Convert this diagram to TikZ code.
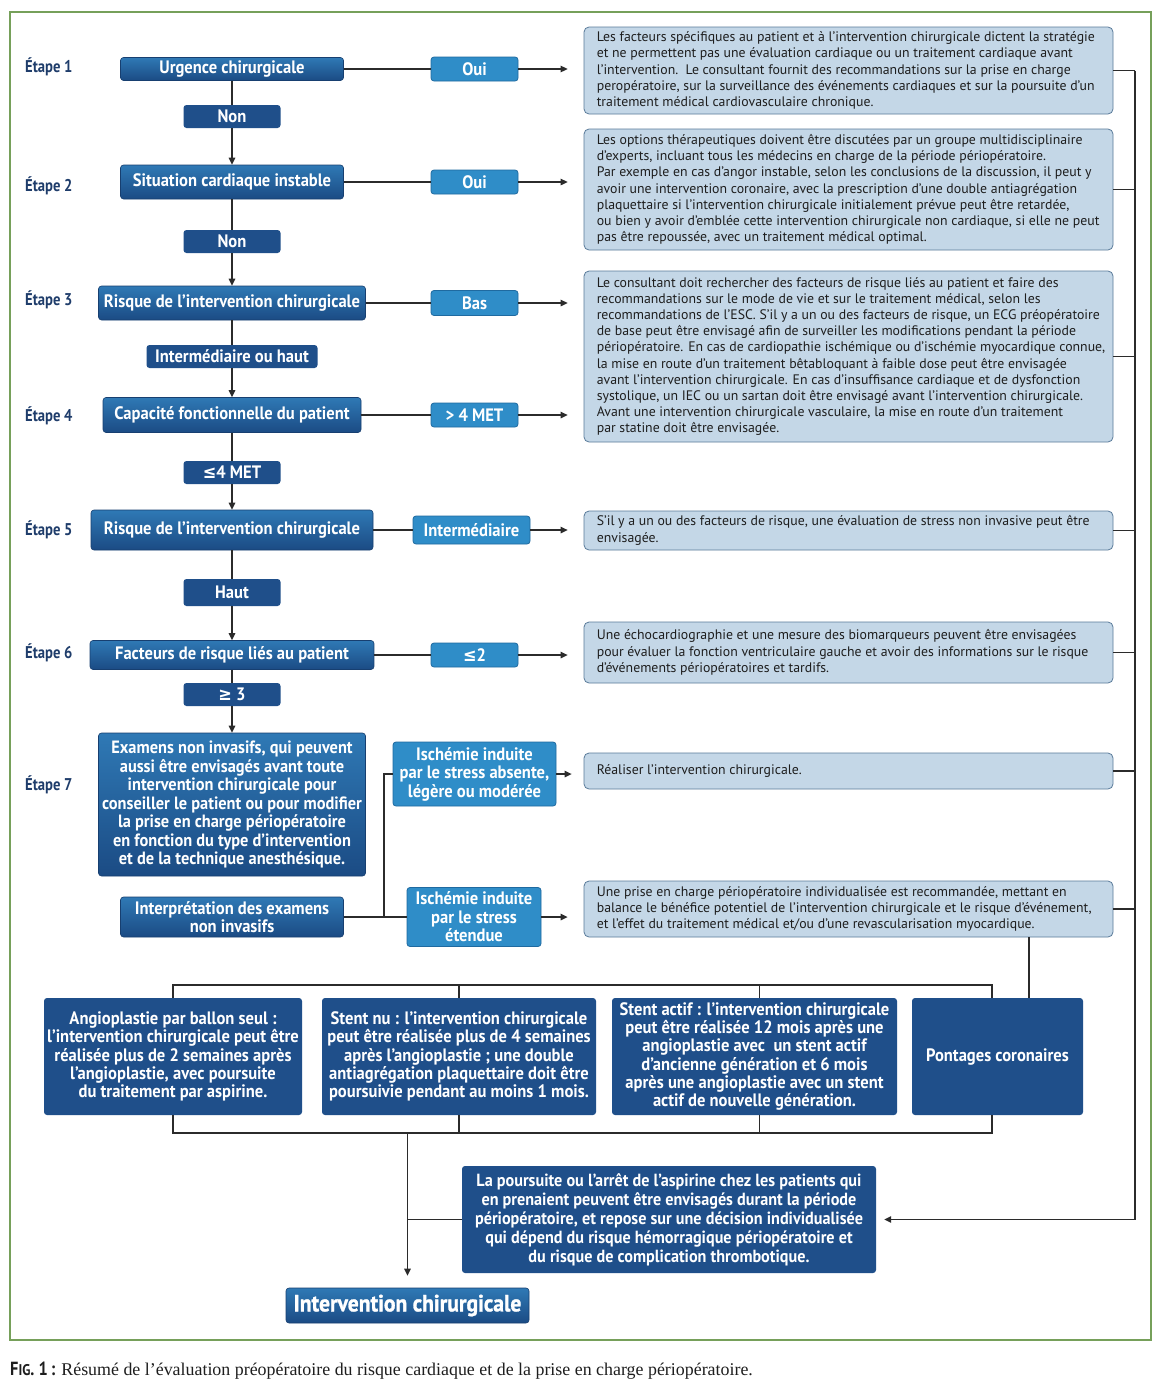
\documentclass[tikz,border=0pt]{standalone}
\usepackage{fontspec}
\usetikzlibrary{arrows.meta}
\setmainfont{Liberation Serif}
\newfontfamily\bfont[FakeStretch=0.92]{PT Sans}
\newfontfamily\efont[FakeStretch=0.86]{PT Sans}
\newfontfamily\hfont[FakeStretch=0.92,FakeBold=1.2]{PT Sans}
\newfontfamily\tfont{PT Sans}
\newfontfamily\symfont[FakeStretch=0.9]{DejaVu Sans}
\definecolor{gTop}{HTML}{2F79B5}
\definecolor{gBot}{HTML}{1B4B84}
\definecolor{dkB}{HTML}{173F70}
\definecolor{flatB}{HTML}{1F4F8A}
\definecolor{mB}{HTML}{2F8DC8}
\definecolor{mB2}{HTML}{1F6AA0}
\definecolor{rF}{HTML}{C4D7E7}
\definecolor{rBd}{HTML}{5A7B9A}
\definecolor{lnC}{HTML}{2B2B2B}
\definecolor{etC}{HTML}{1F3D6B}
\definecolor{frC}{HTML}{76A05A}
\definecolor{txC}{HTML}{1E1E1E}
\tikzset{
  lab/.style={text=white, font=\bfont\bfseries\fontsize{18}{18.5}\selectfont, align=center, inner sep=0pt},
  dbox/.style={lab, rounded corners=3pt, draw=dkB, line width=0.6pt, top color=gTop, bottom color=gBot},
  fbox/.style={lab, rounded corners=3pt, fill=flatB},
  mbox/.style={lab, rounded corners=3pt, draw=mB2, line width=0.8pt, fill=mB},
  bbox/.style={fbox, font=\bfont\bfseries\fontsize{18}{18.3}\selectfont},
  rbox/.style={rounded corners=5pt, draw=rBd, line width=0.8pt, fill=rF},
  rtxt/.style={anchor=west, align=left, inner sep=0pt, text=txC, font=\tfont\fontsize{13.8}{16.2}\selectfont},
  etape/.style={anchor=west, inner sep=0pt, text=etC, font=\efont\bfseries\fontsize{17}{18}\selectfont},
  ln/.style={draw=lnC, line width=1.3pt},
  arr/.style={ln, -{Triangle[length=7pt,width=6.5pt]}},
  frame/.style={draw=frC, line width=2pt},
}
\begin{document}
\begin{tikzpicture}[x=1pt,y=-1pt]
\useasboundingbox (0,0) rectangle (1156,1392);
\fill[white] (0,0) rectangle (1156,1392);
\draw[frame] (10,12) rectangle (1151,1340);

% Etape labels
\node[etape] (e1) at (25,67) {Étape 1};
\node[etape] (e2) at (25,186) {Étape 2};
\node[etape] (e3) at (25,300) {Étape 3};
\node[etape] (e4) at (25,416) {Étape 4};
\node[etape] (e5) at (25,530) {Étape 5};
\node[etape] (e6) at (25,653) {Étape 6};
\node[etape] (e7) at (25,785) {Étape 7};

% left column
\node[dbox, minimum width=223pt, minimum height=23pt] (u1) at (232,69) {Urgence chirurgicale};
\node[fbox, minimum width=97pt, minimum height=23pt] (n1) at (232,116.5) {Non};
\node[dbox, minimum width=223pt, minimum height=34pt] (u2) at (232,182) {Situation cardiaque instable};
\node[fbox, minimum width=97pt, minimum height=23pt] (n2) at (232,241.5) {Non};
\node[dbox, minimum width=267pt, minimum height=34pt] (u3) at (232,303) {Risque de l’intervention chirurgicale};
\node[fbox, minimum width=171pt, minimum height=23pt] (n3) at (232,356.5) {Intermédiaire ou haut};
\node[dbox, minimum width=258pt, minimum height=35pt] (u4) at (232,415) {Capacité fonctionnelle du patient};
\node[fbox, minimum width=97pt, minimum height=23pt] (n4) at (232,472.5) {{\symfont ≤}4 MET};
\node[dbox, minimum width=282pt, minimum height=40pt] (u5) at (232,530) {Risque de l’intervention chirurgicale};
\node[fbox, minimum width=97pt, minimum height=27pt] (n5) at (232,592.5) {Haut};
\node[dbox, minimum width=284pt, minimum height=29pt] (u6) at (232,655) {Facteurs de risque liés au patient};
\node[fbox, minimum width=97pt, minimum height=23pt] (n6) at (232,694.5) {{\symfont ≥} 3};
\node[dbox, minimum width=267pt, minimum height=143pt, font=\bfont\bfseries\fontsize{17.8}{18.5}\selectfont] (u7) at (232,804.5) {Examens non invasifs, qui peuvent\\aussi être envisagés avant toute\\intervention chirurgicale pour\\conseiller le patient ou pour modifier\\la prise en charge périopératoire\\en fonction du type d’intervention\\et de la technique anesthésique.};
\node[dbox, minimum width=223pt, minimum height=40pt] (u8) at (232,917) {Interprétation des examens\\non invasifs};

% middle column
\node[mbox, minimum width=87pt, minimum height=24pt] (m1) at (474.5,69) {Oui};
\node[mbox, minimum width=87pt, minimum height=24pt] (m2) at (474.5,182) {Oui};
\node[mbox, minimum width=87pt, minimum height=25pt] (m3) at (474.5,303) {Bas};
\node[mbox, minimum width=87pt, minimum height=24pt] (m4) at (474.5,415) {> 4 MET};
\node[mbox, minimum width=117pt, minimum height=28pt] (m5) at (471.5,530) {Intermédiaire};
\node[mbox, minimum width=87pt, minimum height=24pt] (m6) at (474.5,655) {{\symfont ≤}2};
\node[mbox, minimum width=163pt, minimum height=64pt] (m7) at (474.5,774) {Ischémie induite\\par le stress absente,\\légère ou modérée};
\node[mbox, minimum width=134pt, minimum height=59pt] (m8) at (474,917) {Ischémie induite\\par le stress\\étendue};

% right column
\node[rbox, minimum width=529pt, minimum height=87pt] (r1) at (848.5,70.5) {};
\node[rbox, minimum width=529pt, minimum height=121pt] (r2) at (848.5,189.5) {};
\node[rbox, minimum width=529pt, minimum height=171pt] (r3) at (848.5,356.5) {};
\node[rbox, minimum width=529pt, minimum height=39pt] (r4) at (848.5,530.5) {};
\node[rbox, minimum width=529pt, minimum height=61pt] (r5) at (848.5,652.5) {};
\node[rbox, minimum width=529pt, minimum height=36pt] (r6) at (848.5,771) {};
\node[rbox, minimum width=529pt, minimum height=56pt] (r7) at (848.5,909) {};

\node[rtxt] (t1) at ([xshift=13pt]r1.west) {Les facteurs spécifiques au patient et à l’intervention chirurgicale dictent la stratégie\\et ne permettent pas une évaluation cardiaque ou un traitement cardiaque avant\\l’intervention.\ \ Le consultant fournit des recommandations sur la prise en charge\\peropératoire, sur la surveillance des événements cardiaques et sur la poursuite d’un\\traitement médical cardiovasculaire chronique.};
\node[rtxt] (t2) at ([xshift=13pt]r2.west) {Les options thérapeutiques doivent être discutées par un groupe multidisciplinaire\\d’experts, incluant tous les médecins en charge de la période périopératoire.\\Par exemple en cas d’angor instable, selon les conclusions de la discussion, il peut y\\avoir une intervention coronaire, avec la prescription d’une double antiagrégation\\plaquettaire si l’intervention chirurgicale initialement prévue peut être retardée,\\ou bien y avoir d’emblée cette intervention chirurgicale non cardiaque, si elle ne peut\\pas être repoussée, avec un traitement médical optimal.};
\node[rtxt] (t3) at ([xshift=13pt]r3.west) {Le consultant doit rechercher des facteurs de risque liés au patient et faire des\\recommandations sur le mode de vie et sur le traitement médical, selon les\\recommandations de l’ESC. S’il y a un ou des facteurs de risque, un ECG préopératoire\\de base peut être envisagé afin de surveiller les modifications pendant la période\\périopératoire. En cas de cardiopathie ischémique ou d’ischémie myocardique connue,\\la mise en route d’un traitement bêtabloquant à faible dose peut être envisagée\\avant l’intervention chirurgicale. En cas d’insuffisance cardiaque et de dysfonction\\systolique, un IEC ou un sartan doit être envisagé avant l’intervention chirurgicale.\\Avant une intervention chirurgicale vasculaire, la mise en route d’un traitement\\par statine doit être envisagée.};
\node[rtxt] (t4) at ([xshift=13pt]r4.west) {S’il y a un ou des facteurs de risque, une évaluation de stress non invasive peut être\\envisagée.};
\node[rtxt] (t5) at ([xshift=13pt]r5.west) {Une échocardiographie et une mesure des biomarqueurs peuvent être envisagées\\pour évaluer la fonction ventriculaire gauche et avoir des informations sur le risque\\d’événements périopératoires et tardifs.};
\node[rtxt] (t6) at ([xshift=13pt]r6.west) {Réaliser l’intervention chirurgicale.};
\node[rtxt] (t7) at ([xshift=13pt]r7.west) {Une prise en charge périopératoire individualisée est recommandée, mettant en\\balance le bénéfice potentiel de l’intervention chirurgicale et le risque d’événement,\\et l’effet du traitement médical et/ou d’une revascularisation myocardique.};

% bottom boxes
\node[bbox, minimum width=258pt, minimum height=117pt] (bA) at (173,1056.5) {Angioplastie par ballon seul :\\l’intervention chirurgicale peut être\\réalisée plus de 2 semaines après\\l’angioplastie, avec poursuite\\du traitement par aspirine.};
\node[bbox, minimum width=274pt, minimum height=117pt] (bB) at (459,1056.5) {Stent nu : l’intervention chirurgicale\\peut être réalisée plus de 4 semaines\\après l’angioplastie ; une double\\antiagrégation plaquettaire doit être\\poursuivie pendant au moins 1 mois.};
\node[bbox, minimum width=285pt, minimum height=117pt] (bC) at (754.5,1056.5) {Stent actif : l’intervention chirurgicale\\peut être réalisée 12 mois après une\\angioplastie avec\ \ un stent actif\\d’ancienne génération et 6 mois\\après une angioplastie avec un stent\\actif de nouvelle génération.};
\node[bbox, minimum width=171pt, minimum height=117pt] (bD) at (997.5,1056.5) {Pontages coronaires};
\node[bbox, minimum width=414pt, minimum height=107pt, font=\bfont\bfseries\fontsize{17.6}{19}\selectfont] (asp) at (669,1219.5) {La poursuite ou l’arrêt de l’aspirine chez les patients qui\\en prenaient peuvent être envisagés durant la période\\périopératoire, et repose sur une décision individualisée\\qui dépend du risque hémorragique périopératoire et\\du risque de complication thrombotique.};
\node[dbox, minimum width=243pt, minimum height=35pt, font=\hfont\bfseries\fontsize{23.5}{24}\selectfont] (ic) at (407.5,1305.5) {Intervention chirurgicale};

% caption
\node[anchor=west, inner sep=0pt, font=\fontsize{17.9}{20}\selectfont, text=txC] (cap) at (10,1371) {{\efont\bfseries\fontsize{19}{20}\selectfont F{\fontsize{15.5}{17}\selectfont IG}. 1\,:} Résumé de l’évaluation préopératoire du risque cardiaque et de la prise en charge périopératoire.};

% left column connectors
\draw[ln] (u1.south) -- (n1.north);
\draw[arr] (n1.south) -- (u2.north);
\draw[ln] (u2.south) -- (n2.north);
\draw[arr] (n2.south) -- (u3.north);
\draw[ln] (u3.south) -- (n3.north);
\draw[arr] (n3.south) -- (u4.north);
\draw[ln] (u4.south) -- (n4.north);
\draw[arr] (n4.south) -- (u5.north);
\draw[ln] (u5.south) -- (n5.north);
\draw[arr] (n5.south) -- (u6.north);
\draw[ln] (u6.south) -- (n6.north);
\draw[arr] (n6.south) -- (u7.north);

% to middle column
\draw[ln] (u1.east) -- (m1.west);
\draw[ln] (u2.east) -- (m2.west);
\draw[ln] (u3.east) -- (m3.west);
\draw[ln] (u4.east) -- (m4.west);
\draw[ln] (u5.east) -- (m5.west);
\draw[ln] (u6.east) -- (m6.west);
\coordinate (j7) at (384,917);
\draw[ln] (u8.east) -- (m8.west);
\draw[ln] (j7) |- (m7.west);

% to right column
\draw[arr, shorten >=16pt] (m1.east) -- (m1.east -| r1.west);
\draw[arr, shorten >=16pt] (m2.east) -- (m2.east -| r2.west);
\draw[arr, shorten >=16pt] (m3.east) -- (m3.east -| r3.west);
\draw[arr, shorten >=16pt] (m4.east) -- (m4.east -| r3.west);
\draw[arr, shorten >=16pt] (m5.east) -- (m5.east -| r4.west);
\draw[arr, shorten >=16pt] (m6.east) -- (m6.east -| r5.west);
\draw[arr, shorten >=12pt] (m7.east) -- (m7.east -| r6.west);
\draw[arr, shorten >=16pt] (m8.east) -- (m8.east -| r7.west);

% spine
\coordinate (sp) at (1135,1219.5);
\draw[ln] (r1.east -| sp) -- (sp);
\draw[ln] (r1.east) -- (r1.east -| sp);
\draw[ln] (r2.east) -- (r2.east -| sp);
\draw[ln] (r3.east) -- (r3.east -| sp);
\draw[ln] (r4.east) -- (r4.east -| sp);
\draw[ln] (r5.east) -- (r5.east -| sp);
\draw[ln] (r6.east) -- (r6.east -| sp);
\draw[ln] (r7.east) -- (r7.east -| sp);
\draw[arr, shorten >=8pt] (sp) -- (sp -| asp.east);

% bottom connectors
\draw[ln] ([xshift=180.5pt]r7.south) -- ([xshift=180.5pt]r7.south |- bD.north);
\coordinate (tL) at (173,985);
\coordinate (tR) at (992,985);
\draw[ln] (bA.north) -- (bA.north |- tL) -- (tR) -- (tR |- bD.north);
\draw[ln] (bB.north) -- (bB.north |- tL);
\draw[ln] ([xshift=5pt]bC.north) -- ([xshift=5pt]bC.north |- tL);
\coordinate (bL) at (173,1133);
\coordinate (bR) at (992,1133);
\draw[ln] (bA.south) -- (bA.south |- bL) -- (bR) -- (bR |- bD.south);
\draw[ln] (bB.south) -- (bB.south |- bL);
\draw[ln] ([xshift=5pt]bC.south) -- ([xshift=5pt]bC.south |- bL);
\draw[arr, shorten >=12pt] (ic.north |- bL) -- (ic.north);
\draw[ln] (asp.west) -- (asp.west -| ic.north);
\end{tikzpicture}
\end{document}
